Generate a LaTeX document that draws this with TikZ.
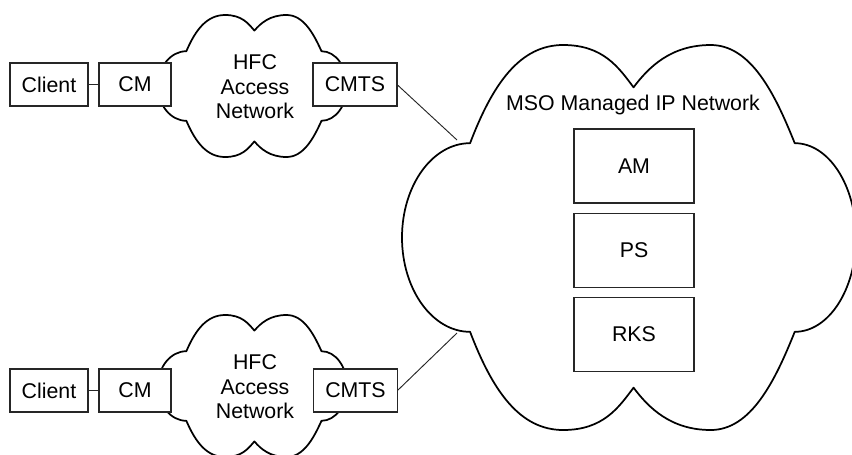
\documentclass[tikz,border=0pt]{standalone}
\usepackage{fontspec}
\setmainfont{Liberation Sans}

\tikzset{
  box/.style={draw=black!85, line width=0.8pt, fill=white, inner sep=0pt, outer sep=0pt,
    font=\fontsize{16}{18.4}\selectfont},
  label/.style={align=center, inner sep=0pt, font=\fontsize{16}{18.4}\selectfont},
  link/.style={draw=black!85, line width=0.7pt},
  cloudline/.style={draw=black, line width=1.3pt, line join=round},
  netcloud/.pic={
    \draw[cloudline] (0.15,0.255)
      .. controls (0.20,0.10) and (0.26,0) .. (0.355,0)
      .. controls (0.443,0) and (0.477,0.058) .. (0.51,0.11)
      .. controls (0.543,0.058) and (0.592,0) .. (0.68,0)
      .. controls (0.768,0) and (0.821,0.125) .. (0.865,0.255)
      .. controls (0.94,0.255) and (1,0.365) .. (1,0.5)
      .. controls (1,0.635) and (0.94,0.745) .. (0.865,0.745)
      .. controls (0.821,0.875) and (0.768,1) .. (0.68,1)
      .. controls (0.592,1) and (0.543,0.942) .. (0.51,0.89)
      .. controls (0.477,0.942) and (0.443,1) .. (0.355,1)
      .. controls (0.26,1) and (0.20,0.90) .. (0.15,0.745)
      .. controls (0.067,0.745) and (0,0.635) .. (0,0.5)
      .. controls (0,0.365) and (0.067,0.255) .. (0.15,0.255) -- cycle;
  }
}

\begin{document}
\begin{tikzpicture}[x=0.75pt, y=-0.75pt]
    \useasboundingbox (0,0) rectangle (852,454);

    \pic[shift={(158,15)}, xscale=189, yscale=142] {netcloud};
    \pic[shift={(158,315)}, xscale=189, yscale=142] {netcloud};
    \pic[shift={(402,45)}, xscale=454, yscale=385] {netcloud};

    \node[label] (hfc1) at (255,87) {HFC\\Access\\Network};
    \node[label] (hfc2) at (255,387) {HFC\\Access\\Network};
    \node[label] (mso) at (633,105) {MSO Managed IP Network};

    \node[box, minimum width=58.5pt, minimum height=32.25pt] (client1) at (49,84.5) {Client};
    \node[box, minimum width=54pt, minimum height=32.25pt] (cm1) at (135,84.5) {CM};
    \node[box, minimum width=63pt, minimum height=32.25pt] (cmts1) at (355,84.5) {CMTS};

    \node[box, minimum width=58.5pt, minimum height=32.25pt] (client2) at (49,390.5) {Client};
    \node[box, minimum width=54pt, minimum height=32.25pt] (cm2) at (135,390.5) {CM};
    \node[box, minimum width=63pt, minimum height=32.25pt] (cmts2) at (355.5,390.5) {CMTS};

    \node[box, minimum width=90pt, minimum height=55.5pt] (am) at (634,166) {AM};
    \node[box, minimum width=90pt, minimum height=55pt] (ps) at (634,250.5) {PS};
    \node[box, minimum width=90pt, minimum height=55pt] (rks) at (634,334.5) {RKS};

    \coordinate (msoin1) at (457,140);
    \coordinate (msoin2) at (457,333);

    \draw[link] (client1) -- (cm1);
    \draw[link] (client2) -- (cm2);
    \draw[link] (cmts1.east) -- (msoin1);
    \draw[link] (cmts2.east) -- (msoin2);
\end{tikzpicture}
\end{document}
